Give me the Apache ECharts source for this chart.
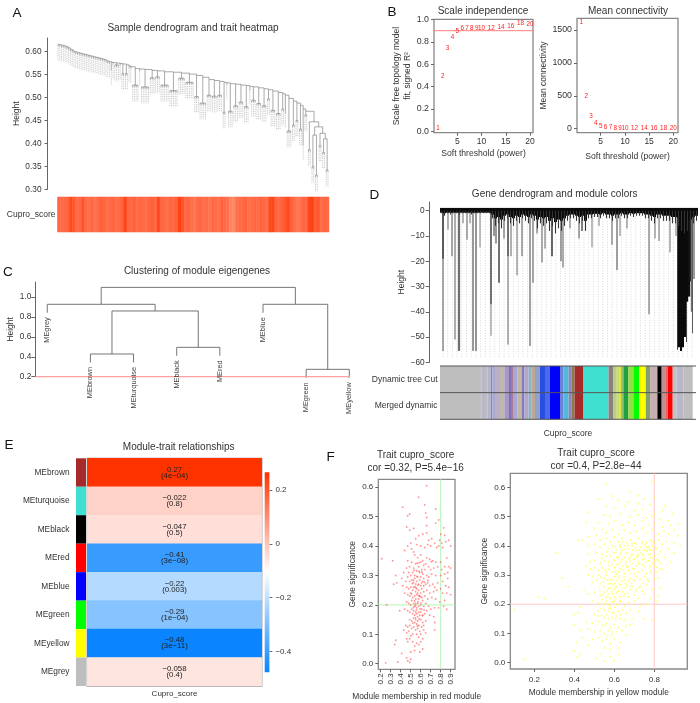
<!DOCTYPE html>
<html><head><meta charset="utf-8">
<script src="https://cdn.jsdelivr.net/npm/echarts@6/dist/echarts.min.js"></script>
<style>html,body{margin:0;padding:0;background:#fff}#c{width:700px;height:703px}</style>
</head><body><div id="c"></div>
<script>
// ---------- Panel A ----------
const sampleBranches=[[1,.616,.616],[1,.615,.615],[1,.614,.614],[1,.613,.613],[1,.612,.612],[1,.61,.61],[1,.608,.608],[1,.605,.605],[1,.603,.603],[1,.6,.6],[1,.599,.599],[1,.598,.598],[1,.597,.597],[1,.596,.596],[1,.595,.595],[1,.594,.594],[1,.593,.593],[1,.592,.592],[1,.591,.591],[1,.59,.59],[1,.589,.589],[1,.588,.588],[1,.587,.587],[1,.586,.586],[1,.585,.585],[1,.584,.584],
[1,.583,.583],[1,.581,.581],[1,.579,.579],[1,.578,.578],[1,.577,.563],[1,.576,.576],[3,.575,.571],[1,.574,.574],[2,.573,.552],[2,.571,.552],[1,.569,.569],[1,.567,.567],[4,.563,.527],[1,.562,.562],[5,.561,.523],[3,.559,.543],[3,.558,.545],[5,.556,.527],[5,.555,.515],[4,.553,.542],[5,.551,.533],[3,.548,.502],[4,.544,.488],[3,.539,.505],[3,.537,.503],[3,.535,.505],[2,.533,.468],[1,.532,.532],[3,.53,.47],[3,.529,.482],[3,.527,.49],[3,.526,.48],[1,.524,.52],[3,.523,.494],[3,.521,.487],[3,.519,.482],[2,.517,.497],[3,.514,.472],[3,.511,.465],[2,.508,.475],[1,.505,.47],[3,.498,.427],[2,.492,.44],[2,.488,.45],[2,.483,.431],[1,.475,.4],[2,.47,.462]];
const sampleTail=[.447,[.386,0,0],[.436,[.418,[.349,0,0],[.331,0,0]],[.422,[.395,0,0],[.41,[.38,0,0],[.342,0,0]]]]];
const sampleTrait=[.55,.5,.55,.6,.85,.7,.5,.55,.75,.5,.45,.55,.4,.5,.6,.55,.45,.5,.55,.45,.5,.6,.9,.55,.5,.6,.45,.55,.5,.45,.55,.6,.5,.85,.55,.5,.45,.55,.5,.6,.95,.75,.5,.55,.45,.35,.5,.55,.45,.5,.4,.55,.5,.45,.6,.5,.45,.25,.2,.45,.5,.55,.6,.45,.5,.55,.5,.6,.55,.45,.85,.9,.55,.5,.6,.7,.85,.6,.5,.35,.4,.55,.5,.9,.95,.6,.7,.45,.55,.5];
const heightTicksA=[.3,.35,.4,.45,.5,.55,.6];
// ---------- Panel B ----------
const powers=[1,2,3,4,5,6,7,8,9,10,12,14,16,18,20];
const scaleFit=[.024,.494,.747,.845,.893,.92,.92,.92,.92,.92,.92,.93,.94,.967,.96];
const meanConn=[1612,486,188,81,40,25,15,10,7,5,3,2,2,2,1];
// ---------- Panel C ----------
const moduleTree=[1.097,[.927,'MEgrey',[.86,[.428,'MEbrown','MEturquoise'],[.495,'MEblack','MEred']]],[.927,'MEblue',[.274,'MEgreen','MEyellow']]];
// ---------- Panel D ----------
const geneFringe=[-1,-2,-1,-1.5,-1,-1,-1.5,-1,-1,-1,-1.5,-1,-1,-1,-1,-1,-1,-3,-6,-5,-7,-4,-3,-5,-6,-4,-5,-3,-4,-5,-3,-4,-7,-5,-6,-5,-8,-6,-9,-7,-8,-6,-4,-3,-3,-4,-5,-4,-8,-3,-3,-2.5,-2.5,-3,-2,-3,-3,-4,-3,-3,-2,-3,-3,-2,-2.5,-2,-2,-2,-3,-3,-4,-5,-3,-3,-4,-4,-4,-5,-5,-6,-8,-9,-8,-7,-5,-4];
// [position, depth, grey level, width]
const geneDrops=[[3,-55.5,110,1.2],[3,-19,60,1.4],[8,-7.5,110,1],[12,-18,130,1.4],[15,-51,90,1],[19,-55.5,110,2.2],[23,-5,110,1],[27,-11.5,90,1],[30,-5,110,1],[33,-55.5,50,1],[36,-55.5,50,1],[40,-14.5,130,1],[51,-49.5,90,.8],[51,-37,40,1],[54,-10,50,1],[56,-13,90,1.2],[59,-28.5,80,1.6],[64,-11,80,1],[68,-53,100,1],[68,-18,50,1],[71,-18,100,1],[77,-25.5,130,1.2],[82,-18,80,1],[90,-53.5,100,1.2],[93,-28.5,110,1.2],[97,-9,90,1],[102,-20.5,90,1],[105,-15,100,1],[112,-18,40,1.4],[121,-20,70,1],[123,-22.5,90,1],[130,-7,100,1],[139,-11,80,1],[142,-8,40,1.2],[152,-14.5,120,1],[159,-6,120,1],[172,-13.5,90,1],[177,-23.5,120,1.4],[180,-10,120,1],[187,-7,110,1],[209,-41,90,1],[215,-11,110,1],[219,-12,110,1],[230,-16.5,110,1],[236,-10,110,1],
[237.5,-55,60,1],[239,-54,10,2],[241,-55.5,10,2],[243,-54,10,2],[245,-50,10,2],[246.5,-52,70,1],[247,-36,10,2.4],[249,-34,15,2.4],[250.5,-28,30,2],[251.5,-40,110,1.4],[252.5,-48.5,90,1],[254,-27,130,1.6]];
const geneBandColors=['#bebebe','#b8b8cc','#c8b8b8','#b0b8d0','#9080c8','#a8a8d0','#b8b0c8','#c0b8a8','#a898c8','#8070b8','#b07890','#a8a8d8','#c0b8a0','#8878c0','#b0a8c8','#90b0c8','#c0a890','#90a0d0','#2a4fe0','#4a6ae8','#0000ff','#7080d8','#50b8d8','#8888b8','#8a7a50','#a52a2a','#40e0d0','#8f8080','#b8d080','#c8e070','#e0e040','#90c070','#20a040','#90e040','#00ff00','#ffff00','#80a070','#c8b0b0','#000000','#c09090','#f06060','#ff0000','#c0c0c8','#b8b8c8','#bebebe'];
const geneBandWidths=[41.7,3.3,2.7,3.3,1.3,2.7,5,4.3,4.7,2,2.7,4,4,2.7,4,3.3,3.3,5,5,5,10,3.5,5,3.3,2.7,9,25,5,3.3,2.3,2,2.3,5,5,5.7,6.7,4.3,7.3,4.3,4.3,1.7,5,4,6.7,9.3];
const geneRows=['Dynamic tree Cut','Merged dynamic'];
// ---------- Panel E ----------
const modules=['MEbrown','MEturquoise','MEblack','MEred','MEblue','MEgreen','MEyellow','MEgrey'];
const moduleColors=['#a52a2a','#40e0d0','#000000','#ff0000','#0000ff','#00ff00','#ffff00','#bebebe'];
const moduleCor=[.27,-.022,-.047,-.41,-.22,-.29,-.48,-.058];
const moduleP=['4e−04','0.8','0.5','3e−08','0.003','1e−04','3e−11','0.4'];
const corTicks=[.2,0,-.2,-.4];
// ---------- Panel F ----------
const redMembership=[[.66,.605],[.58,.566],[.64,.54],[.75,.526],[.42,.532],[.49,.509],[.47,.503],[.65,.512],[.66,.497],[.78,.489],[.46,.465],[.49,.454],[.53,.46],[.66,.47],[.66,.445],[.83,.462],[.75,.478],[.8,.44],[.84,.437],[.58,.435],[.62,.44],[.55,.425],[.68,.42],[.71,.425],[.74,.41],[.79,.42],[.85,.415],[.88,.42],[.9,.4],[.81,.41],[.56,.405],[.5,.41],[.47,.4],[.44,.385],[.51,.39],[.53,.38],[.6,.4],[.64,.395],[.67,.405],[.7,.4],[.76,.395],[.78,.4],[.82,.395],[.54,.37],[.57,.36],[.6,.37],[.62,.35],[.66,.36],[.69,.355],[.72,.35],[.75,.345],[.8,.345],[.86,.36],[.88,.33],[.84,.33],[.47,.35],[.21,.357],[.32,.35],[.49,.33],[.51,.345],[.53,.325],[.55,.34],[.58,.33],[.6,.345],[.61,.32],[.63,.335],[.64,.32],[.65,.34],[.68,.33],[.7,.32],[.73,.325],[.77,.33],[.81,.32],[.87,.31],[.9,.325],[.43,.31],[.46,.325],[.48,.31],[.5,.3],[.52,.31],[.54,.3],[.56,.315],[.57,.295],[.59,.31],[.6,.295],[.62,.305],[.63,.29],[.66,.3],[.68,.295],[.71,.305],[.75,.3],[.8,.3],[.84,.305],[.87,.29],[.35,.3],[.41,.29],[.45,.28],[.47,.295],[.49,.28],[.51,.285],[.53,.275],[.54,.29],[.55,.27],[.56,.28],[.58,.27],[.59,.285],[.6,.265],[.61,.275],[.62,.28],[.63,.265],[.65,.27],[.67,.275],[.69,.265],[.72,.27],[.74,.26],[.77,.275],[.82,.28],[.85,.265],[.88,.26],[.33,.27],[.36,.275],[.42,.265],[.46,.26],[.48,.255],[.5,.26],[.52,.25],[.53,.26],[.55,.245],[.56,.255],[.57,.24],[.58,.25],[.6,.24],[.61,.255],[.63,.245],[.66,.25],[.69,.24],[.73,.245],[.76,.25],[.8,.255],[.82,.24],[.86,.24],[.9,.235],[.44,.24],[.47,.235],[.49,.23],[.5,.24],[.52,.225],[.54,.23],[.55,.22],[.56,.235],[.58,.22],[.59,.23],[.61,.225],[.62,.215],[.64,.23],[.67,.22],[.71,.225],[.75,.22],[.79,.21],[.84,.215],[.26,.2],[.46,.21],[.48,.205],[.5,.2],[.51,.215],[.53,.205],[.54,.195],[.55,.205],[.56,.19],[.57,.205],[.58,.195],[.6,.2],[.61,.185],[.63,.195],[.65,.205],[.68,.195],[.7,.185],[.74,.19],[.78,.19],[.83,.195],[.86,.185],[.39,.18],[.44,.185],[.47,.18],[.49,.175],[.51,.185],[.52,.17],[.53,.18],[.54,.165],[.55,.175],[.56,.17],[.57,.16],[.58,.175],[.59,.165],[.6,.175],[.62,.165],[.64,.17],[.66,.18],[.69,.165],[.73,.16],[.49,.15],[.51,.145],[.53,.155],[.54,.14],[.55,.15],[.56,.135],[.57,.145],[.58,.13],[.6,.15],[.62,.14],[.63,.13],[.65,.145],[.74,.14],[.45,.13],[.47,.125],[.49,.13],[.51,.12],[.53,.125],[.55,.115],[.57,.12],[.59,.11],[.61,.125],[.63,.115],[.65,.105],[.74,.115],[.43,.115],[.46,.105],[.48,.11],[.5,.095],[.52,.1],[.56,.1],[.58,.09],[.6,.1],[.62,.085],[.35,.08],[.34,.065],[.46,.085],[.47,.075],[.49,.085],[.52,.075],[.54,.06],[.56,.07],[.58,.065],[.6,.075],[.62,.05],[.54,.045],[.5,.04],[.41,.035],[.59,.04],[.46,.02],[.47,.01],[.5,.015],[.49,.005],[.25,.003],[.37,.006],
[.527,.283],[.543,.262],[.562,.297],[.584,.314],[.516,.273],[.573,.267],[.596,.228],[.538,.213],[.558,.183],[.572,.211],[.548,.156],[.567,.128],[.593,.187],[.528,.191],[.507,.238],[.583,.343],[.613,.312],[.637,.277],[.566,.342],[.534,.318],[.603,.207],[.617,.163],[.523,.138],[.586,.152],[.634,.183],[.673,.283],[.706,.347],[.547,.198],[.578,.232],[.552,.258]];
const yellowMembership=[[.79,.62],[.56,.61],[.59,.57],[.68,.585],[.72,.572],[.8,.565],[.52,.56],[.62,.555],[.67,.55],[.72,.545],[.75,.56],[.78,.54],[.85,.535],[.56,.535],[.6,.53],[.65,.535],[.7,.52],[.74,.525],[.8,.51],[.84,.52],[.89,.51],[.47,.515],[.55,.505],[.58,.5],[.63,.51],[.68,.5],[.72,.505],[.76,.495],[.79,.5],[.83,.49],[.87,.485],[.92,.475],[.46,.48],[.52,.48],[.57,.475],[.6,.485],[.64,.47],[.67,.48],[.7,.47],[.74,.485],[.77,.47],[.8,.475],[.84,.465],[.88,.47],[.9,.455],[.5,.46],[.54,.455],[.56,.445],[.59,.455],[.62,.44],[.65,.455],[.68,.445],[.71,.45],[.74,.46],[.76,.445],[.79,.455],[.82,.44],[.85,.45],[.87,.44],[.92,.435],[.42,.42],[.44,.418],[.47,.43],[.51,.435],[.53,.42],[.56,.425],[.58,.415],[.6,.43],[.62,.415],[.64,.425],[.66,.41],[.68,.42],[.7,.41],[.72,.425],[.74,.415],[.76,.41],[.78,.42],[.8,.41],[.82,.42],[.84,.405],[.86,.415],[.9,.41],[.93,.4],[.47,.4],[.5,.405],[.53,.395],[.55,.405],[.57,.39],[.59,.4],[.61,.385],[.63,.395],[.64,.385],[.65,.4],[.67,.39],[.69,.4],[.71,.385],[.73,.395],[.75,.385],[.76,.395],[.78,.385],[.79,.4],[.81,.39],[.83,.38],[.87,.39],[.9,.375],[.31,.375],[.47,.37],[.51,.375],[.54,.37],[.56,.38],[.58,.365],[.6,.375],[.62,.36],[.63,.37],[.65,.36],[.66,.375],[.68,.36],[.69,.37],[.7,.355],[.72,.365],[.74,.37],[.75,.355],[.77,.37],[.78,.36],[.8,.365],[.82,.35],[.85,.36],[.48,.345],[.5,.35],[.53,.34],[.55,.35],[.57,.345],[.59,.335],[.6,.35],[.61,.335],[.63,.345],[.64,.33],[.66,.345],[.67,.33],[.69,.34],[.71,.33],[.72,.345],[.74,.335],[.76,.345],[.78,.33],[.79,.34],[.8,.33],[.83,.34],[.88,.345],[.46,.33],[.48,.32],[.5,.325],[.52,.315],[.54,.325],[.56,.31],[.57,.32],[.59,.31],[.6,.325],[.62,.31],[.63,.32],[.65,.305],[.67,.315],[.68,.305],[.7,.32],[.72,.31],[.74,.315],[.76,.305],[.78,.315],[.81,.31],[.84,.32],[.34,.29],[.47,.3],[.49,.295],[.52,.3],[.55,.29],[.56,.3],[.58,.285],[.6,.295],[.61,.28],[.62,.29],[.64,.28],[.65,.295],[.67,.28],[.68,.29],[.7,.28],[.71,.295],[.73,.285],[.75,.295],[.77,.28],[.8,.285],[.82,.29],[.37,.26],[.45,.25],[.49,.275],[.53,.27],[.55,.26],[.57,.27],[.58,.255],[.59,.265],[.6,.25],[.61,.26],[.62,.245],[.63,.265],[.65,.255],[.66,.265],[.68,.25],[.69,.26],[.71,.25],[.73,.26],[.74,.245],[.76,.265],[.79,.25],[.83,.255],[.22,.225],[.25,.22],[.47,.235],[.5,.24],[.53,.23],[.55,.24],[.56,.225],[.57,.235],[.58,.22],[.59,.235],[.6,.225],[.61,.24],[.63,.225],[.65,.235],[.67,.225],[.7,.23],[.72,.22],[.75,.235],[.78,.22],[.82,.23],[.49,.21],[.52,.205],[.54,.215],[.55,.2],[.56,.21],[.58,.195],[.6,.21],[.61,.2],[.63,.21],[.65,.195],[.67,.205],[.7,.21],[.73,.195],[.76,.2],[.81,.21],[.1,.182],[.43,.19],[.53,.185],[.55,.18],[.57,.175],[.58,.185],[.59,.17],[.6,.19],[.62,.175],[.64,.18],[.66,.17],[.68,.18],[.72,.175],[.4,.165],[.42,.17],[.5,.165],[.52,.16],[.55,.155],[.56,.165],[.57,.15],[.59,.155],[.61,.16],[.63,.15],[.65,.145],[.69,.15],[.75,.15],[.79,.145],[.4,.13],[.46,.14],[.49,.135],[.52,.14],[.54,.13],[.56,.135],[.58,.12],[.6,.13],[.62,.12],[.66,.125],[.68,.13],[.43,.11],[.47,.115],[.5,.105],[.53,.11],[.55,.1],[.57,.11],[.59,.095],[.61,.105],[.64,.11],[.66,.095],[.41,.07],[.44,.085],[.49,.08],[.52,.085],[.54,.075],[.56,.08],[.58,.065],[.6,.08],[.63,.07],[.4,.04],[.47,.06],[.55,.05],[.58,.045],[.62,.05],[.15,.012],[.41,.02],[.43,.03],[.51,.014],[.53,.03],[.55,.005],[.58,.02],[.6,.007],[.62,.028],
[.583,.272],[.594,.283],[.607,.258],[.613,.303],[.624,.337],[.638,.352],[.647,.318],[.653,.283],[.662,.327],[.673,.356],[.684,.368],[.693,.322],[.702,.304],[.712,.363],[.723,.338],[.733,.377],[.742,.352],[.752,.328],[.763,.382],[.772,.348],[.782,.372],[.793,.357],[.803,.348],[.812,.327],[.573,.254],[.587,.243],[.602,.272],[.616,.236],[.626,.268],[.642,.243],[.657,.272],[.668,.237],[.686,.271],[.697,.283],[.566,.283],[.553,.317],[.574,.332],[.597,.353],[.611,.362],[.634,.378],[.654,.388],[.667,.402],[.694,.386],[.714,.406],[.727,.384],[.753,.402],[.773,.396],[.791,.415],[.806,.392],[.817,.372],[.826,.321],[.537,.357],[.562,.364],[.586,.378],[.604,.397],[.628,.403],[.643,.412],[.688,.408],[.706,.392],[.738,.408],[.768,.388],[.796,.383],[.814,.352],[.785,.306],[.765,.286],[.744,.272],[.725,.257],[.706,.243],[.677,.262],[.648,.228],[.628,.212],[.608,.218],[.592,.207],[.569,.197],[.544,.232],[.527,.247],[.514,.283],[.532,.292],[.545,.276],[.564,.246],[.576,.226],[.598,.172],[.574,.186],[.554,.127],[.607,.148],[.632,.164],[.587,.106],[.566,.092],[.537,.162],[.518,.178],[.606,.312],[.627,.297],[.658,.336],[.677,.348],[.697,.352],[.718,.372],[.747,.367]];

// ---------- helpers ----------
const FONT='"Liberation Sans",Helvetica,Arial,sans-serif', AX='#666', TXT='#333', BOX='#888';
const grids=[],xAxes=[],yAxes=[],series=[];
function addGrid(l,t,w,h,box){grids.push({left:l,top:t,width:w,height:h,containLabel:false,show:!!box,borderColor:BOX,borderWidth:1.3,backgroundColor:'transparent'});return grids.length-1;}
function axis(g,min,max,ticks,o={}){
  const a={gridIndex:g,type:'value',min,max,splitLine:{show:false},
    axisLine:{show:!!o.line,onZero:false,lineStyle:{color:AX,width:1}},
    axisTick:{show:!!ticks,length:o.tick||3,customValues:ticks||undefined,lineStyle:{color:AX,width:1}},
    axisLabel:{show:!!ticks,customValues:ticks||undefined,hideOverlap:false,color:TXT,fontFamily:FONT,fontSize:o.fs||8.3,margin:o.margin||5,rotate:o.rotate||0,showMinLabel:true,showMaxLabel:true,formatter:o.fmt||(v=>String(v))},
    inverse:!!o.inverse,position:o.position};
  if(o.name){a.name=o.name;a.nameLocation='middle';a.nameGap=o.gap;a.nameTextStyle={color:TXT,fontFamily:FONT,fontSize:o.nfs||8.5,lineHeight:o.nlh||10};a.nameRotate=o.nrot;}
  return a;
}
function segs(g,list,stroke,lw,dash,z){
  series.push({type:'custom',coordinateSystem:'cartesian2d',xAxisIndex:g,yAxisIndex:g,z:z||2,silent:true,animation:false,
    data:list,encode:{x:[0,2],y:[1,3]},
    renderItem:(p,api)=>{const a=api.coord([api.value(0),api.value(1)]),b=api.coord([api.value(2),api.value(3)]);
      const s=typeof stroke==='function'?stroke(p.dataIndex):stroke,w=typeof lw==='function'?lw(p.dataIndex):lw;
      return{type:'line',shape:{x1:a[0],y1:a[1],x2:b[0],y2:b[1]},style:{stroke:s,lineWidth:w,lineDash:dash||null}};}});
}
function rects(g,list,fill,z){
  series.push({type:'custom',coordinateSystem:'cartesian2d',xAxisIndex:g,yAxisIndex:g,z:z||1,silent:true,animation:false,
    data:list,encode:{x:[0,2],y:[1,3]},
    renderItem:(p,api)=>{const a=api.coord([api.value(0),api.value(1)]),b=api.coord([api.value(2),api.value(3)]);
      return{type:'rect',shape:{x:Math.min(a[0],b[0]),y:Math.min(a[1],b[1]),width:Math.abs(b[0]-a[0]),height:Math.abs(b[1]-a[1])},style:{fill:typeof fill==='function'?fill(p.dataIndex):fill}};}});
}
function texts(g,list,size,color,rot,align,z){
  series.push({type:'custom',coordinateSystem:'cartesian2d',xAxisIndex:g,yAxisIndex:g,z:z||3,silent:true,animation:false,
    data:list.map(d=>[d[0],d[1]]),encode:{x:0,y:1},
    renderItem:(p,api)=>{const a=api.coord([api.value(0),api.value(1)]);
      return{type:'text',x:a[0],y:a[1],rotation:rot||0,style:{text:String(list[p.dataIndex][2]),fontFamily:FONT,fontSize:size,fill:color,textAlign:align||'center',textVerticalAlign:'middle'}};}});
}
function hline(g,x0,x1,y,color,w){segs(g,[[x0,y,x1,y]],color,w||1);}

// ---------- A ----------
const gA=addGrid(47.5,38,281.5,151.3);
{
  const dark=[],strip=[];let cur=0;const stemH=.004,stripL=.032;
  const leaf=(h)=>{const x=cur++;dark.push([x,h,x,h-stemH]);strip.push([x,h-stemH,x,h-stemH-stripL]);return x;};
  const layout=(n,parentH)=>{if(!Array.isArray(n))return leaf(parentH);
    const a=layout(n[1],n[0]),b=layout(n[2],n[0]);dark.push([a,n[0],b,n[0]]);
    for(const [c,x] of [[n[1],a],[n[2],b]]) if(Array.isArray(c)) dark.push([x,n[0],x,c[0]]);
    return (a+b)/2;};
  let prevMid=null,prevJoin=null;
  const link=(mid,join)=>{if(prevMid!==null){dark.push([prevMid,prevJoin,mid,prevJoin]);dark.push([mid,prevJoin,mid,join]);}prevMid=mid;prevJoin=join;};
  sampleBranches.forEach(([n,join,node])=>{const first=cur;for(let i=0;i<n;i++)leaf(node);const last=cur-1,mid=(first+last)/2;
    link(mid,join);if(join!==node)dark.push([mid,join,mid,node]);if(n>1)dark.push([first,node,last,node]);});
  const tailMid=layout(sampleTail,sampleTail[0]);link(tailMid,sampleTail[0]);
  const N=cur,sp=270/(N-1);
  xAxes.push(axis(gA,-(10.5)/sp,N-1+1/sp,null));
  yAxes.push(axis(gA,.3,.6296,heightTicksA,{line:true,margin:6,fmt:v=>v.toFixed(2),name:'Height',gap:26,nrot:90,fs:8.3}));
  segs(gA,strip,'#c8c8c8',1,[1,.8],1);
  segs(gA,dark,'#858585',.7,null,2);
}
// A heat strip
const gAh=addGrid(57.5,197,271.5,35);
xAxes.push({gridIndex:gAh,type:'category',data:sampleTrait.map((_,i)=>i),show:false});
yAxes.push({gridIndex:gAh,type:'category',data:['Cupro_score'],axisLine:{show:false},axisTick:{show:false},axisLabel:{color:TXT,fontFamily:FONT,fontSize:8.5,margin:2}});
const seriesHeatA=series.length;
series.push({type:'heatmap',xAxisIndex:gAh,yAxisIndex:gAh,data:sampleTrait.map((v,i)=>[i,0,v]),silent:true,animation:false,progressive:0});

// ---------- B ----------
const gB1=addGrid(434,19.3,99,113.4,true);
xAxes.push(axis(gB1,.2,20.6,[5,10,15,20],{fs:8.5,margin:4,name:'Soft threshold (power)',gap:16,nfs:8.6}));
yAxes.push(axis(gB1,-.0125,1.002,[0,.2,.4,.6,.8,1],{fs:8.8,margin:5,fmt:v=>v.toFixed(1),name:'Scale free topology model\nfit, signed R²',gap:20,nrot:90,nfs:8.5,nlh:10.5}));
hline(gB1,.2,20.6,.9,'#ff7f7f',1);
texts(gB1,powers.map((p,i)=>[p,scaleFit[i],p]),6.3,'#ff2020');
const gB2=addGrid(577,18.3,101,114.4,true);
xAxes.push(axis(gB2,.1,20.97,[5,10,15,20],{fs:8.5,margin:4,name:'Soft threshold (power)',gap:18.7,nfs:8.6}));
yAxes.push(axis(gB2,-61,1678,[0,500,1000,1500],{fs:8.8,margin:5,name:'Mean connectivity',gap:25.5,nrot:90,nfs:8.5}));
texts(gB2,powers.map((p,i)=>[p,meanConn[i],p]),6.3,'#ff2020');

// ---------- C ----------
const gC=addGrid(35.3,282,314.7,94.7);
{
  const l=[],lab=[];let cur=1;const hang=.085,gap=.045;
  const walk=n=>{if(!Array.isArray(n)){const x=cur++;return{x,leaf:n};}
    const a=walk(n[1]),b=walk(n[2]);l.push([a.x,n[0],b.x,n[0]]);
    for(const c of [a,b]){ if(c.leaf){l.push([c.x,n[0],c.x,n[0]-hang]);lab.push([c.x,n[0]-hang-gap,c.leaf]);} else l.push([c.x,n[0],c.x,c.h]);}
    return{x:(a.x+b.x)/2,h:n[0]};};
  walk(moduleTree);
  xAxes.push(axis(gC,.723,8.016,null));
  yAxes.push(axis(gC,.2,1.151,[.2,.4,.6,.8,1],{line:true,fs:8.3,margin:4,tick:4,fmt:v=>v.toFixed(1),name:'Height',gap:19,nrot:90}));
  segs(gC,l,'#666',.9);
  hline(gC,.723,8.016,.2,'#ff9f9f',1.2);
  texts(gC,lab,7.4,'#444',Math.PI/2,'right');
}

// ---------- D ----------
const gD=addGrid(429.7,202,266.3,160.3);
{
  const off=10.3;
  xAxes.push(axis(gD,-off,256,null));
  yAxes.push(axis(gD,-60,3.44,[0,-10,-20,-30,-40,-50,-60],{line:true,fs:8.3,margin:5,tick:4,fmt:v=>String(v).replace('-','−'),name:'Height',gap:23.5,nrot:90}));
  const dots=[];for(let x=3;x<256;x+=4.7)dots.push([x,0,x,-58.5]);
  segs(gD,dots,'#cfcfcf',.8,[1,1.6],1);
  rects(gD,geneFringe.map((d,i)=>[i*3,1.1,i*3+3,Math.min(d*.5,-.8)]),'#0a0a0a',3);
  segs(gD,geneFringe.map((d,i)=>[i*3+1.5,0,i*3+1.5,d]),'#333',1.1,null,3);
  segs(gD,geneDrops.map(d=>[d[0],0,d[0],d[1]]),i=>{const v=geneDrops[i][2];return `rgb(${v},${v},${v})`;},i=>geneDrops[i][3],null,2);
}
const gDb=addGrid(440,366,256,53.3);
{
  xAxes.push(axis(gDb,0,256,null,{name:'Cupro_score',gap:9}));
  yAxes.push(axis(gDb,0,2,[.5,1.5],{inverse:true,tick:.01,margin:2.5,fs:8.5,fmt:v=>geneRows[Math.floor(v)]}));
  let acc=0;const r=geneBandWidths.map(w=>{const o=[acc,0,acc+w,2];acc+=w;return o;});
  rects(gDb,r,i=>geneBandColors[i],1);
  segs(gDb,[[0,0,256,0],[0,1,256,1],[0,2,256,2]],'#555',1,null,2);
}

// ---------- E ----------
const gEc=addGrid(76,458.3,10,227.7);
xAxes.push(axis(gEc,0,1,null));
yAxes.push(axis(gEc,0,8,modules.map((_,i)=>i+.5),{inverse:true,tick:.01,margin:6.5,fs:8.3,fmt:v=>modules[Math.floor(v)]}));
rects(gEc,modules.map((_,i)=>[0,i,1,i+1]),i=>moduleColors[i],1);
const gEh=addGrid(87.3,458.3,174.4,227.7,true);
xAxes.push({gridIndex:gEh,type:'category',data:['Cupro_score'],axisLine:{show:false},axisTick:{show:false},axisLabel:{color:TXT,fontFamily:FONT,fontSize:8,margin:4}});
yAxes.push({gridIndex:gEh,type:'category',inverse:true,data:modules,axisLine:{show:false},axisTick:{show:false},axisLabel:{show:false}});
const seriesHeatE=series.length;
series.push({type:'heatmap',xAxisIndex:gEh,yAxisIndex:gEh,silent:true,animation:false,progressive:0,
  data:moduleCor.map((v,i)=>[0,i,v]),
  label:{show:true,fontFamily:FONT,fontSize:7.8,color:'#222',lineHeight:6,formatter:p=>String(moduleCor[p.data[1]]).replace('-','−')+'\n('+moduleP[p.data[1]]+')'}});
const gEb=addGrid(264.7,472.3,4.7,200);
xAxes.push(axis(gEb,0,1,null));
yAxes.push(axis(gEb,-.478,.266,corTicks,{position:'right',tick:3,margin:6,fs:8,fmt:v=>String(v).replace('-','−')}));
series.push({type:'custom',coordinateSystem:'cartesian2d',xAxisIndex:gEb,yAxisIndex:gEb,silent:true,animation:false,data:[[0,-.478,1,.266]],encode:{x:[0,2],y:[1,3]},
  renderItem:(p,api)=>{const a=api.coord([0,api.value(1)]),b=api.coord([1,api.value(3)]);
    return{type:'rect',shape:{x:a[0],y:b[1],width:b[0]-a[0],height:a[1]-b[1]},style:{fill:new echarts.graphic.LinearGradient(0,0,0,1,[{offset:0,color:'#ff3300'},{offset:.5,color:'#ffffff'},{offset:1,color:'#0a85ff'}])}};}});

// ---------- F ----------
const gF1=addGrid(378.3,479.3,76.7,190,true);
xAxes.push(axis(gF1,.176,.943,[.2,.3,.4,.5,.6,.7,.8,.9],{rotate:90,fs:8,margin:4,fmt:v=>v.toFixed(1),name:'Module membership in red module',gap:22,nfs:8.4}));
yAxes.push(axis(gF1,-.019,.627,[0,.1,.2,.3,.4,.5,.6],{fs:8,margin:5,fmt:v=>v.toFixed(1),name:'Gene significance',gap:20.5,nrot:90,nfs:8.4}));
series.push({type:'scatter',xAxisIndex:gF1,yAxisIndex:gF1,data:redMembership,symbolSize:1.9,silent:true,animation:false,itemStyle:{color:'#ff3030',opacity:.5}});
hline(gF1,.176,.943,.2,'#b5f5b5',1);segs(gF1,[[.8,-.019,.8,.627]],'#b5f5b5',1);
const gF2=addGrid(510.3,473.3,177,195.7,true);
xAxes.push(axis(gF2,.08,.965,[.2,.4,.6,.8],{fs:8,margin:7,fmt:v=>v.toFixed(1),name:'Module membership in yellow module',gap:19,nfs:8.4}));
yAxes.push(axis(gF2,-.0216,.648,[0,.1,.2,.3,.4,.5,.6],{fs:8,margin:5,fmt:v=>v.toFixed(1),name:'Gene significance',gap:21,nrot:90,nfs:8.4}));
series.push({type:'scatter',xAxisIndex:gF2,yAxisIndex:gF2,data:yellowMembership,symbolSize:2,silent:true,animation:false,itemStyle:{color:'#ffff30',opacity:.55}});
hline(gF2,.08,.965,.2,'#ffc8c8',1);segs(gF2,[[.8,-.0216,.8,.648]],'#ffc8c8',1);

// ---------- titles / letters ----------
const tStyle={color:TXT,fontFamily:FONT,fontSize:10,fontWeight:'normal',lineHeight:12.5};
const T=(text,cx,top)=>({text,left:cx,top,textAlign:'center',textStyle:tStyle,padding:0});
const L=(text,left,top)=>({type:'text',left,top,style:{text,fontFamily:FONT,fontSize:13.5,fill:'#111'}});
const chart=echarts.init(document.getElementById('c'),null,{renderer:'canvas'});
chart.setOption({animation:false,backgroundColor:'#fff',
  title:[T('Sample dendrogram and trait heatmap',193,22),T('Scale independence',483,4.5),T('Mean connectivity',628,4.5),T('Clustering of module eigengenes',197,265),T('Gene dendrogram and module colors',554.7,187.5),T('Module-trait relationships',178.7,440.5),T('Trait cupro_score\ncor =0.32, P=5.4e−16',415.7,449),T('Trait cupro_score\ncor =0.4, P=2.8e−44',596,447)],
  grid:grids,xAxis:xAxes,yAxis:yAxes,series,
  visualMap:[
    {show:false,type:'continuous',seriesIndex:seriesHeatA,min:0,max:1,inRange:{color:['#ff9a7c','#ff3c10']}},
    {show:false,type:'continuous',seriesIndex:seriesHeatE,min:-.48,max:.27,inRange:{color:['#0a85ff','#ffffff','#ff3300']}}],
  graphic:[L('A',12.5,6.5),L('B',387.5,5.5),L('C',3,265.5),L('D',369.5,188.5),L('E',4.5,438.5),L('F',326.5,450.5)]
});
</script></body></html>
